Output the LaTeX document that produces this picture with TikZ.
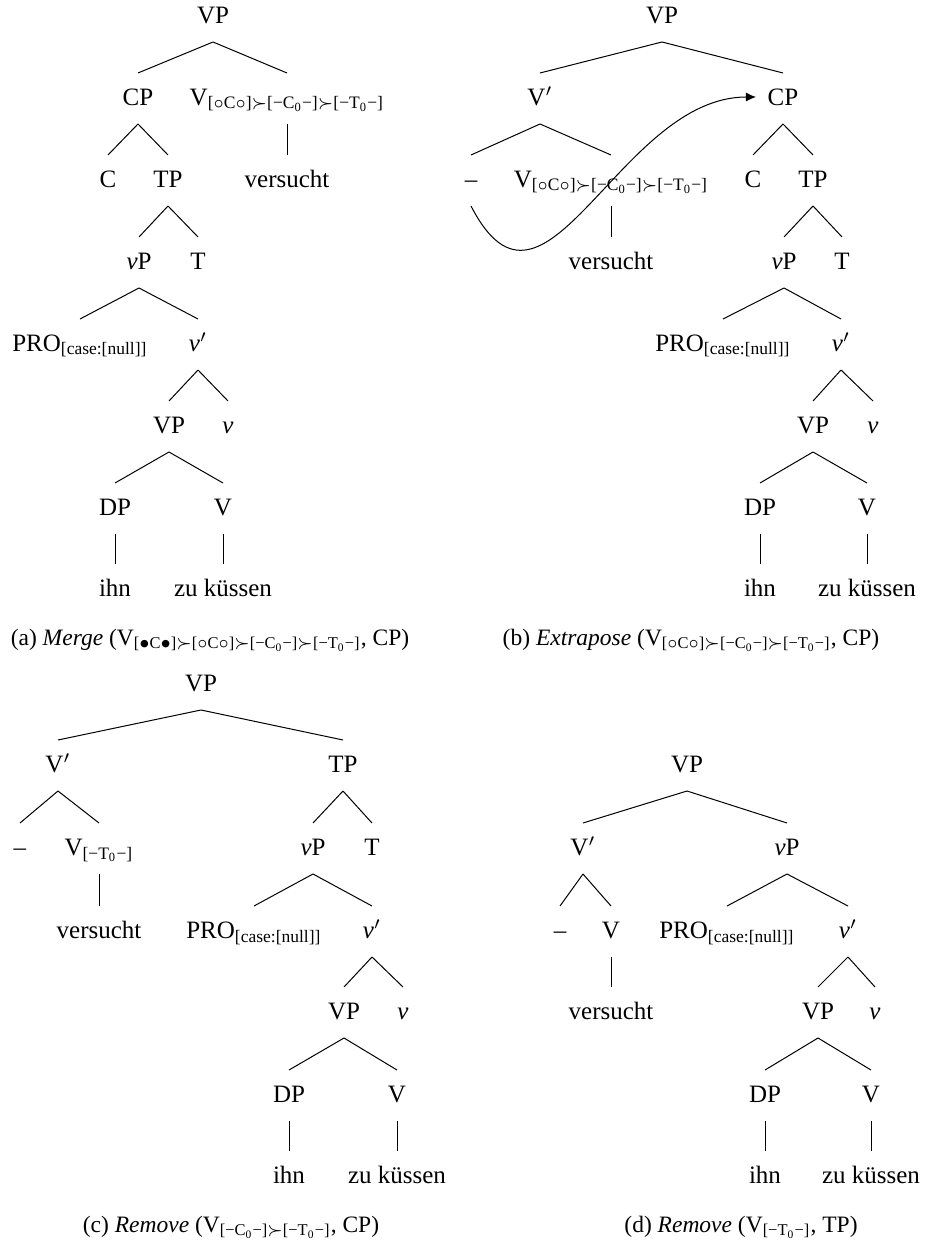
\documentclass[tikz,border=0pt]{standalone}
\usepackage{amsmath}
\usepackage{fontspec}
\setmainfont{Liberation Serif}
\usetikzlibrary{calc,arrows.meta}

\tikzset{
  lbl/.style={inner sep=0pt, text height=6.6pt, text depth=0pt},
  capt/.style={inner sep=0pt, font=\fontsize{9.4pt}{11pt}\selectfont}
}
\newcommand{\branch}[2]{\draw ($(#1)+(0,27)$) -- ($(#2)+(0,-24)$);}
\newcommand{\feat}[1]{\textsubscript{#1}}
\newcommand{\sq}{$\succ$}
\newcommand{\oC}{[$\circ$C$\circ$]}
\newcommand{\bC}{[$\bullet$C$\bullet$]}
\newcommand{\mC}{[−C\textsubscript{0}−]}
\newcommand{\mT}{[−T\textsubscript{0}−]}

\begin{document}
\begin{tikzpicture}[x=0.4pt,y=-0.4pt]
\useasboundingbox (0,0) rectangle (926,1243);

% (a)
\node[lbl] (aVP) at (213,15) {VP};
\node[lbl] (aCP) at (138,97) {CP};
\node[lbl] (aV) at (287,97) {V\feat{\oC\sq\mC\sq\mT}};
\node[lbl] (aC) at (108,179) {C};
\node[lbl] (aTP) at (168,179) {TP};
\node[lbl] (avers) at (287,179) {versucht};
\node[lbl] (avP) at (139,261) {\textit{v}P};
\node[lbl] (aT) at (198,261) {T};
\node[lbl] (aPRO) at (80,343) {PRO$_{\text{[case:[null]]}}$};
\node[lbl] (avbar) at (198,343) {\textit{v}$'$};
\node[lbl] (aVP2) at (169,425) {VP};
\node[lbl] (av) at (228,425) {\textit{v}};
\node[lbl] (aDP) at (115,507) {DP};
\node[lbl] (aV2) at (223,507) {V};
\node[lbl] (aihn) at (115,588) {ihn};
\node[lbl] (azu) at (223,588) {zu küssen};
\foreach \p/\c in {aVP/aCP,aVP/aV,aCP/aC,aCP/aTP,aV/avers,aTP/avP,aTP/aT,
  avP/aPRO,avP/avbar,avbar/aVP2,avbar/av,aVP2/aDP,aVP2/aV2,aDP/aihn,aV2/azu}
  {\branch{\p}{\c}}
\node[capt] (acap) at (210,640) {(a) \textit{Merge} (V\feat{\bC\sq\oC\sq\mC\sq\mT}, CP)};

% (b)
\node[lbl] (bVP) at (662,15) {VP};
\node[lbl] (bVbar) at (540,97) {V$'$};
\node[lbl] (bCP) at (783,97) {CP};
\node[lbl] (bdash) at (471,179) {--};
\node[lbl] (bV) at (611,179) {V\feat{\oC\sq\mC\sq\mT}};
\node[lbl] (bvers) at (611,261) {versucht};
\node[lbl] (bC) at (753,179) {C};
\node[lbl] (bTP) at (813,179) {TP};
\node[lbl] (bvP) at (784,261) {\textit{v}P};
\node[lbl] (bT) at (842,261) {T};
\node[lbl] (bPRO) at (723,343) {PRO$_{\text{[case:[null]]}}$};
\node[lbl] (bvbar) at (841,343) {\textit{v}$'$};
\node[lbl] (bVP2) at (813,425) {VP};
\node[lbl] (bv) at (873,425) {\textit{v}};
\node[lbl] (bDP) at (760,507) {DP};
\node[lbl] (bV2) at (867,507) {V};
\node[lbl] (bihn) at (760,588) {ihn};
\node[lbl] (bzu) at (867,588) {zu küssen};
\foreach \p/\c in {bVP/bVbar,bVP/bCP,bVbar/bdash,bVbar/bV,bV/bvers,bCP/bC,bCP/bTP,
  bTP/bvP,bTP/bT,bvP/bPRO,bvP/bvbar,bvbar/bVP2,bvbar/bv,bVP2/bDP,bVP2/bV2,bDP/bihn,bV2/bzu}
  {\branch{\p}{\c}}
\draw[-{Latex[length=4pt,width=3.6pt]},shorten >=4.5pt] ($(bdash)+(0,27)$)
  .. controls +(74,144) and +(-149,0) .. (bCP.west);
\node[capt] (bcap) at (691,640) {(b) \textit{Extrapose} (V\feat{\oC\sq\mC\sq\mT}, CP)};

% (c)
\node[lbl] (cVP) at (201,683) {VP};
\node[lbl] (cVbar) at (58,764) {V$'$};
\node[lbl] (cTP) at (343,764) {TP};
\node[lbl] (cdash) at (20,847) {--};
\node[lbl] (cV) at (99,847) {V\feat{\mT}};
\node[lbl] (cvers) at (99,930) {versucht};
\node[lbl] (cvP) at (313,847) {\textit{v}P};
\node[lbl] (cT) at (372,847) {T};
\node[lbl] (cPRO) at (254,930) {PRO$_{\text{[case:[null]]}}$};
\node[lbl] (cvbar) at (372,930) {\textit{v}$'$};
\node[lbl] (cVP2) at (344,1011) {VP};
\node[lbl] (cv) at (403,1011) {\textit{v}};
\node[lbl] (cDP) at (289,1094) {DP};
\node[lbl] (cV2) at (397,1094) {V};
\node[lbl] (cihn) at (289,1175) {ihn};
\node[lbl] (czu) at (397,1175) {zu küssen};
\foreach \p/\c in {cVP/cVbar,cVP/cTP,cVbar/cdash,cVbar/cV,cV/cvers,cTP/cvP,cTP/cT,
  cvP/cPRO,cvP/cvbar,cvbar/cVP2,cvbar/cv,cVP2/cDP,cVP2/cV2,cDP/cihn,cV2/czu}
  {\branch{\p}{\c}}
\node[capt] (ccap) at (231,1227) {(c) \textit{Remove} (V\feat{\mC\sq\mT}, CP)};

% (d)
\node[lbl] (dVP) at (687,764) {VP};
\node[lbl] (dVbar) at (583,847) {V$'$};
\node[lbl] (dvP) at (787,847) {\textit{v}P};
\node[lbl] (ddash) at (560,930) {--};
\node[lbl] (dV) at (611,930) {V};
\node[lbl] (dvers) at (611,1011) {versucht};
\node[lbl] (dPRO) at (727,930) {PRO$_{\text{[case:[null]]}}$};
\node[lbl] (dvbar) at (848,930) {\textit{v}$'$};
\node[lbl] (dVP2) at (818,1011) {VP};
\node[lbl] (dv) at (875,1011) {\textit{v}};
\node[lbl] (dDP) at (765,1094) {DP};
\node[lbl] (dV2) at (871,1094) {V};
\node[lbl] (dihn) at (765,1175) {ihn};
\node[lbl] (dzu) at (871,1175) {zu küssen};
\foreach \p/\c in {dVP/dVbar,dVP/dvP,dVbar/ddash,dVbar/dV,dV/dvers,dvP/dPRO,dvP/dvbar,
  dvbar/dVP2,dvbar/dv,dVP2/dDP,dVP2/dV2,dDP/dihn,dV2/dzu}
  {\branch{\p}{\c}}
\node[capt] (dcap) at (741,1227) {(d) \textit{Remove} (V\feat{\mT}, TP)};
\end{tikzpicture}
\end{document}
